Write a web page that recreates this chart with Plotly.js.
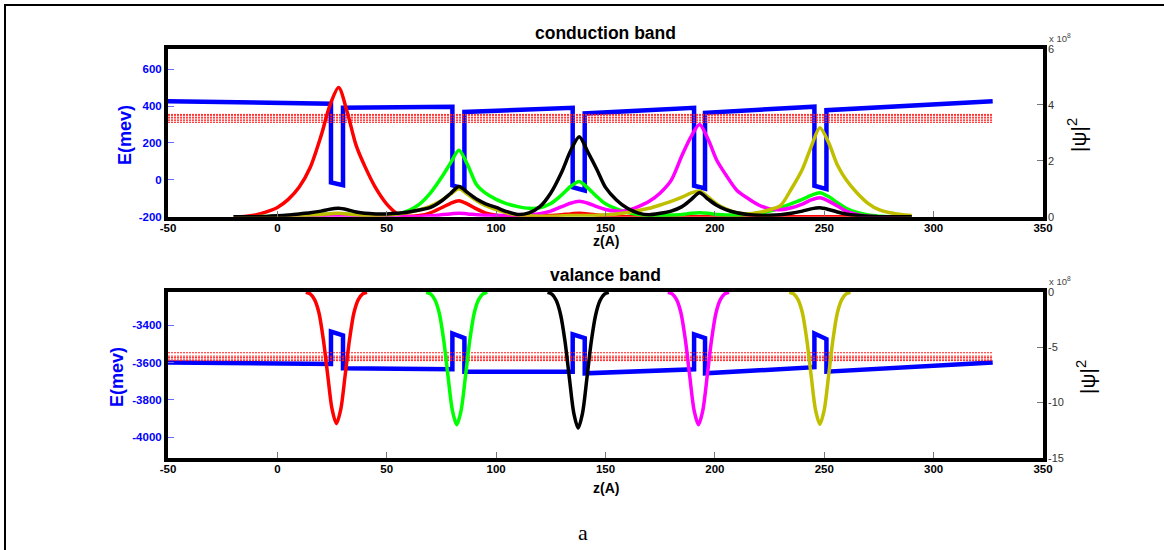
<!DOCTYPE html>
<html>
<head>
<meta charset="utf-8">
<script src="https://cdn.plot.ly/plotly-3.0.1.min.js"></script>
<style>html,body{margin:0;padding:0;background:#fff;}#chart{width:1164px;height:550px;}</style>
</head>
<body>
<div id="chart"></div>
<script>
// ---------------- data ----------------
const xTicks = [-50, 0, 50, 100, 150, 200, 250, 300, 350];
const xTickText = ['-50', '0', '50', '100', '150', '200', '250', '300', '350'];
const cbTicks = [-200, 0, 200, 400, 600];
const cbTickText = ['-200', '0', '200', '400', '600'];
const cbPsiTicks = [0, 2, 4, 6];
const cbPsiTickText = ['0', '2', '4', '6'];
const vbTicks = [-4000, -3800, -3600, -3400];
const vbTickText = ['-4000', '-3800', '-3600', '-3400'];
const vbPsiTicks = [-15, -10, -5, 0];
const vbPsiTickText = ['-15', '-10', '-5', '0'];

// conduction band edge (meV)
const zCB = [-50, 24.5, 24.5, 30, 30, 80, 80, 85.5, 85.5, 135, 135, 140.5, 140.5, 190.5, 190.5, 195.5, 195.5, 245.5, 245.5, 251, 251, 327];
const eCB = [427, 413, -14, -29, 391, 397, -30, -48, 368, 391, -40, -58, 360, 391, -32, -47, 364, 397, -32, -50, 378, 427];
// conduction subband energies (meV)
const cbLevels = [312, 321, 330, 339, 348, 355];
const levelStart = -50, levelEnd = 327;

// |psi|^2 in conduction band (x 1e8)
const zc = [-20,-15,-10,-5,0,5,10,15,20,24,28,32,36,40,45,50,55,60,65,70,75,79,83,87,91,95,100,105,110,115,120,125,130,134,138,142,146,150,155,160,165,170,175,180,185,189,193,197,201,205,210,215,220,225,230,235,240,244,248,252,256,260,265,270,275,280,285,290];
const psiRed = [0,0.01,0.06,0.17,0.33,0.62,1.06,1.76,2.9,3.98,
  4.62,3.72,2.55,1.8,1.02,0.45,0.1,0.02,0.04,0.14,
  0.32,0.47,0.57,0.45,0.28,0.14,0.05,0.02,0.01,0.01,
  0.02,0.04,0.07,0.1,0.12,0.1,0.06,0.03,0.01,0,
  0,0,0,0,0,0,0,0,0,0,
  0,0,0,0,0,0,0,0,0,0,
  0,0,0,0,0,0,0,0];
const psiGreen = [0,0,0,0.01,0.02,0.03,0.04,0.05,0.07,0.09,
  0.1,0.09,0.07,0.05,0.04,0.05,0.1,0.22,0.45,0.85,
  1.4,1.9,2.38,1.85,1.15,0.85,0.62,0.46,0.36,0.3,
  0.32,0.47,0.78,1.08,1.26,1.02,0.72,0.46,0.28,0.15,
  0.08,0.05,0.05,0.06,0.08,0.12,0.14,0.12,0.08,0.06,
  0.06,0.08,0.12,0.2,0.32,0.47,0.62,0.76,0.86,0.72,
  0.5,0.3,0.15,0.06,0.02,0,0,0];
const psiBlack = [0,0,0,0.01,0.03,0.06,0.1,0.14,0.2,0.27,
  0.3,0.25,0.17,0.12,0.1,0.1,0.12,0.17,0.24,0.33,
  0.56,0.82,1.08,0.86,0.63,0.47,0.33,0.18,0.08,0.14,
  0.36,0.85,1.6,2.35,2.86,2.3,1.7,1.05,0.6,0.3,
  0.13,0.07,0.12,0.2,0.36,0.6,0.86,0.62,0.4,0.25,
  0.14,0.08,0.05,0.05,0.07,0.12,0.2,0.28,0.32,0.26,
  0.17,0.1,0.05,0.02,0,0,0,0];
const psiMagenta = [0,0,0,0,0,0,0,0,0,0,
  0,0,0,0,0,0,0,0,0.01,0.03,
  0.07,0.1,0.12,0.1,0.07,0.05,0.04,0.04,0.05,0.07,
  0.11,0.2,0.36,0.48,0.55,0.48,0.36,0.26,0.2,0.22,
  0.36,0.55,0.85,1.3,2.2,2.85,3.3,2.75,2.0,1.5,
  0.95,0.66,0.42,0.28,0.25,0.32,0.45,0.6,0.68,0.56,
  0.38,0.2,0.08,0.02,0,0,0,0];
const psiOlive = [0,0,0,0,0.01,0.02,0.04,0.06,0.08,0.11,
  0.12,0.1,0.07,0.05,0.05,0.07,0.1,0.16,0.25,0.38,
  0.58,0.8,1.0,0.8,0.58,0.4,0.25,0.13,0.06,0.03,
  0.02,0.02,0.03,0.04,0.04,0.04,0.05,0.07,0.1,0.15,
  0.22,0.3,0.42,0.55,0.7,0.84,0.92,0.7,0.45,0.28,
  0.14,0.1,0.15,0.25,0.4,1.0,1.7,2.5,3.18,2.65,
  1.85,1.32,0.85,0.48,0.25,0.14,0.08,0.04];

// valence band edge (meV)
const zVB = [-50, 24.5, 24.5, 30, 30, 80, 80, 85.5, 85.5, 135, 135, 140.5, 140.5, 190.5, 190.5, 195.5, 195.5, 245.5, 245.5, 251, 251, 327];
const eVB = [-3600, -3608, -3435, -3455, -3631, -3636, -3445, -3470, -3649, -3649, -3450, -3470, -3658, -3636, -3450, -3470, -3658, -3625, -3445, -3475, -3649, -3600];
const vbLevels = [-3548, -3566, -3574, -3582, -3590];

// |psi|^2 in valence band (x 1e8, drawn negative)
const zvRed = [13,15,17,19,21,23,25,27,29,31,33,35,37,39,41];
const vRed = [-0.05,-0.19,-0.71,-1.9,-4.3,-7.5,-10.6,-11.9,-10.6,-7.5,-4.3,-1.9,-0.71,-0.19,-0.05];
const zvGreen = [68,70,72,74,76,78,80,82,84,86,88,90,92,94,96];
const vGreen = [-0.05,-0.19,-0.72,-1.92,-4.32,-7.6,-10.7,-12.0,-10.7,-7.6,-4.32,-1.92,-0.72,-0.19,-0.05];
const zvBlack = [123.5,125.5,127.5,129.5,131.5,133.5,135.5,137.5,139.5,141.5,143.5,145.5,147.5,149.5,151.5];
const vBlack = [-0.06,-0.22,-0.8,-2.1,-4.5,-7.8,-10.95,-12.3,-10.95,-7.8,-4.5,-2.1,-0.8,-0.22,-0.06];
const zvMagenta = [178.5,180.5,182.5,184.5,186.5,188.5,190.5,192.5,194.5,196.5,198.5,200.5,202.5,204.5,206.5];
const vMagenta = [-0.05,-0.19,-0.72,-1.92,-4.32,-7.6,-10.7,-12.0,-10.7,-7.6,-4.32,-1.92,-0.72,-0.19,-0.05];
const zvOlive = [234,236,238,240,242,244,246,248,250,252,254,256,258,260,262];
const vOlive = [-0.05,-0.19,-0.71,-1.9,-4.3,-7.55,-10.65,-11.95,-10.65,-7.55,-4.3,-1.9,-0.71,-0.19,-0.05];

// ---------------- styles ----------------
const FONT = 'Liberation Sans, Arial, sans-serif';
const BLUE = '#0000ff';
const C = {red:'#ff0000', green:'#00ff00', black:'#000000', magenta:'#ff00ff', olive:'#bfbf00'};
const PSI_W = 3.5;

const traces = [];
// conduction
traces.push({x:zCB, y:eCB, xaxis:'x', yaxis:'y', mode:'lines', line:{color:BLUE, width:4.5}});
cbLevels.forEach(e => traces.push({x:[levelStart, levelEnd], y:[e, e], xaxis:'x', yaxis:'y', mode:'lines', line:{color:'#ff2020', width:1, dash:'2px,1px'}}));
[[psiRed,C.red],[psiGreen,C.green],[psiMagenta,C.magenta],[psiOlive,C.olive],[psiBlack,C.black]].forEach(([v,c]) =>
  traces.push({x:zc, y:v, xaxis:'x', yaxis:'y2', mode:'lines', line:{color:c, width:PSI_W, shape:'spline', smoothing:0.8}}));
// valence
traces.push({x:zVB, y:eVB, xaxis:'x2', yaxis:'y3', mode:'lines', line:{color:BLUE, width:4.5}});
vbLevels.forEach(e => traces.push({x:[levelStart, levelEnd], y:[e, e], xaxis:'x2', yaxis:'y3', mode:'lines', line:{color:'#ff2020', width:1, dash:'2px,1px'}}));
[[zvRed,vRed,C.red],[zvGreen,vGreen,C.green],[zvBlack,vBlack,C.black],[zvMagenta,vMagenta,C.magenta],[zvOlive,vOlive,C.olive]].forEach(([z,v,c]) =>
  traces.push({x:z, y:v, xaxis:'x2', yaxis:'y4', mode:'lines', line:{color:c, width:PSI_W, shape:'spline', smoothing:0.8}}));

const frameAxis = {showline:true, mirror:true, linecolor:'black', linewidth:4, showgrid:false, zeroline:false, ticks:'inside', ticklen:6, tickwidth:1};
const xAx = Object.assign({}, frameAxis, {range:[-50,350], tickvals:xTicks, ticktext:xTickText, tickcolor:'#777',
  ticklabelstandoff:-3, tickfont:{family:FONT, size:11.5, color:'black', weight:'bold'}});
const yLeft = Object.assign({}, frameAxis, {tickcolor:'#6a6aff', tickfont:{family:FONT, size:11.5, color:BLUE, weight:'bold'}});
const yRight = {side:'right', showgrid:false, zeroline:false, showline:false, ticks:'inside', ticklen:6, tickwidth:1, tickcolor:'#777',
  ticklabelstandoff:4, tickfont:{family:FONT, size:11, color:'#333'}};

const W = 875, H = 409, L = 168, T = 49;
const XC = L + W / 2;
const px = x => (x - L) / W;
const py = y => (T + H - y) / H;

const ann = (text, x, y, font, extra) => Object.assign({text, x:px(x), y:py(y), xref:'paper', yref:'paper', showarrow:false, xanchor:'center', yanchor:'middle', font}, extra || {});

const layout = {
  width:1164, height:550,
  margin:{l:L, r:1164 - L - W, t:T, b:550 - T - H, pad:0},
  paper_bgcolor:'#ffffff', plot_bgcolor:'#ffffff',
  showlegend:false, hovermode:false,
  xaxis: Object.assign({}, xAx, {domain:[0,1], anchor:'y'}),
  yaxis: Object.assign({}, yLeft, {domain:[py(216.7),1], anchor:'x', range:[-200,710], tickvals:cbTicks, ticktext:cbTickText}),
  yaxis2: Object.assign({}, yRight, {overlaying:'y', anchor:'x', range:[0,6], tickvals:cbPsiTicks, ticktext:cbPsiTickText}),
  xaxis2: Object.assign({}, xAx, {domain:[0,1], anchor:'y3'}),
  yaxis3: Object.assign({}, yLeft, {domain:[0, py(291.7)], anchor:'x2', range:[-4110,-3222], tickvals:vbTicks, ticktext:vbTickText}),
  yaxis4: Object.assign({}, yRight, {overlaying:'y3', anchor:'x2', range:[-15,0], tickvals:vbPsiTicks, ticktext:vbPsiTickText}),
  annotations:[
    ann('conduction band', XC, 33, {family:FONT, size:17.5, color:'black', weight:'bold'}),
    ann('valance band', XC, 275, {family:FONT, size:17.5, color:'black', weight:'bold'}),
    ann('z(A)', XC, 241, {family:FONT, size:14, color:'black', weight:'bold'}),
    ann('z(A)', XC, 488, {family:FONT, size:14, color:'black', weight:'bold'}),
    ann('E(mev)', 125, 135, {family:FONT, size:18, color:BLUE, weight:'bold'}, {textangle:-90}),
    ann('E(mev)', 117, 377, {family:FONT, size:18, color:BLUE, weight:'bold'}, {textangle:-90}),
    ann('|ψ|<sup>2</sup>', 1077, 135, {family:FONT, size:21, color:'black'}, {textangle:-90}),
    ann('|ψ|<sup>2</sup>', 1086, 377, {family:FONT, size:21, color:'black'}, {textangle:-90}),
    ann('x 10<sup>8</sup>', 1060, 38, {family:FONT, size:9.5, color:'#444'}),
    ann('x 10<sup>8</sup>', 1060, 281, {family:FONT, size:9.5, color:'#444'}),
    ann('a', 583, 532, {family:'Liberation Serif, Times New Roman, serif', size:22, color:'black'})
  ],
  shapes:[
    {type:'rect', xref:'paper', yref:'paper', x0:px(5), x1:px(1180), y0:py(5), y1:py(580), line:{color:'black', width:2}, fillcolor:'rgba(0,0,0,0)', layer:'above'}
  ]
};

Plotly.newPlot('chart', traces, layout, {staticPlot:true, displayModeBar:false});
</script>
</body>
</html>
